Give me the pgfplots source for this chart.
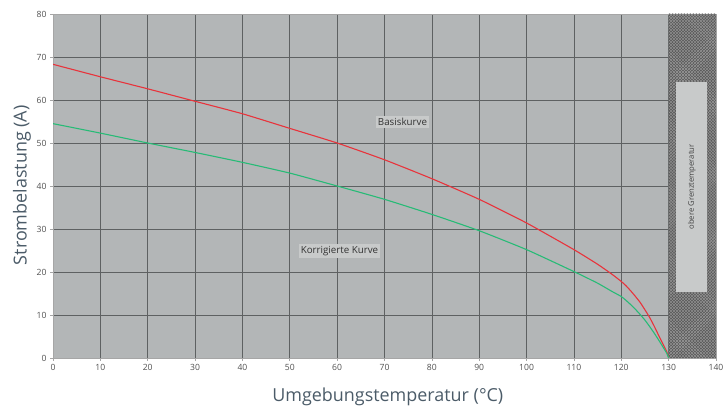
\documentclass[border=0pt]{standalone}
\usepackage{fontspec}
\setmainfont{Open Sans}
\usepackage{pgfplots}
\pgfplotsset{compat=1.18}
\usetikzlibrary{patterns}

\definecolor{plotbg}{HTML}{B3B6B7}
\definecolor{gridc}{HTML}{5E6162}
\definecolor{redc}{HTML}{E8333B}
\definecolor{greenc}{HTML}{27BB76}
\definecolor{labc}{HTML}{4B5B68}
\definecolor{tickc}{HTML}{505050}
\definecolor{boxc}{HTML}{C8CACA}
\definecolor{hatchbg}{HTML}{5A5A5A}
\definecolor{hatchfg}{HTML}{9A9A9A}

\pgfplotstableread{
T     I
0     68.3
10    65.4
20    62.6
30    59.7
40    56.8
50    53.4
60    50.0
70    46.1
80    41.7
90    36.9
100   31.4
110   25.2
115   21.8
118   19.5
120   17.8
121   16.8
122   15.6
123   14.3
124   12.9
125   11.2
126   9.4
127   7.3
128   5.0
129   2.8
129.6 1.5
130   0
}\basis

\pgfplotstableread{
T     I
0     54.5
10    52.3
20    50.0
30    47.8
40    45.5
50    43.0
60    40.0
70    36.9
80    33.4
90    29.6
100   25.2
110   20.1
115   17.4
118   15.5
120   14.3
121   13.4
122   12.4
123   11.3
124   10.1
125   8.8
126   7.3
127   5.7
128   4.0
129   2.2
129.6 1.1
130   0
}\korr

\begin{document}
\begin{tikzpicture}
\begin{axis}[
    at={(0,0)}, anchor=south west,
    scale only axis,
    width=663bp, height=344bp,
    xmin=0, xmax=140, ymin=0, ymax=80,
    xtick distance=10, ytick distance=10,
    grid=major,
    grid style={gridc, line width=0.7pt},
    axis background/.style={fill=plotbg},
    axis line style={gray!70, line width=0.6pt},
    tick style={gray!70, line width=0.6pt},
    tick align=outside,
    major tick length=3bp,
    xtick pos=bottom, ytick pos=left,
    /pgf/number format/assume math mode=true,
    ticklabel style={font=\fontsize{8.6}{9}\selectfont, text=tickc},
    xlabel={Umgebungstemperatur (°C)},
    ylabel={Strombelastung (A)},
    label style={font=\fontsize{18}{20}\selectfont, text=labc},
    xlabel style={at={(axis description cs:0.505,0)}, anchor=center, yshift=-39bp},
    ylabel style={at={(axis description cs:0,0.502)}, anchor=center, yshift=31bp},
]
\addplot[draw=none, fill=hatchbg] coordinates {(130,0) (130,80) (140,80) (140,0)} -- cycle;
\addplot[draw=none, pattern=crosshatch, pattern color=hatchfg] coordinates {(130,0) (130,80) (140,80) (140,0)} -- cycle;
\addplot[draw=none, fill=boxc] coordinates {(131.6,15.3) (131.6,64.3) (138.2,64.3) (138.2,15.3)} -- cycle;
\node[rotate=90, font=\fontsize{7.7}{8}\selectfont, text=black!75] at (axis cs:134.9,39.8) {obere Grenztemperatur};

\addplot[redc, line width=1.1pt, smooth, tension=0.3] table {\basis};
\addplot[greenc, line width=1.1pt, smooth, tension=0.3] table {\korr};

\node[fill=boxc, inner sep=2bp, font=\fontsize{9.8}{10}\selectfont, text=black!80] at (axis cs:73.8,54.9) {Basiskurve};
\node[fill=boxc, inner sep=2bp, font=\fontsize{9.8}{10}\selectfont, text=black!80] at (axis cs:60.5,24.9) {Korrigierte Kurve};
\end{axis}
\pgfresetboundingbox
\path[use as bounding box] (-53bp,-50.3bp) rectangle (670bp,358bp);
\end{tikzpicture}
\end{document}
